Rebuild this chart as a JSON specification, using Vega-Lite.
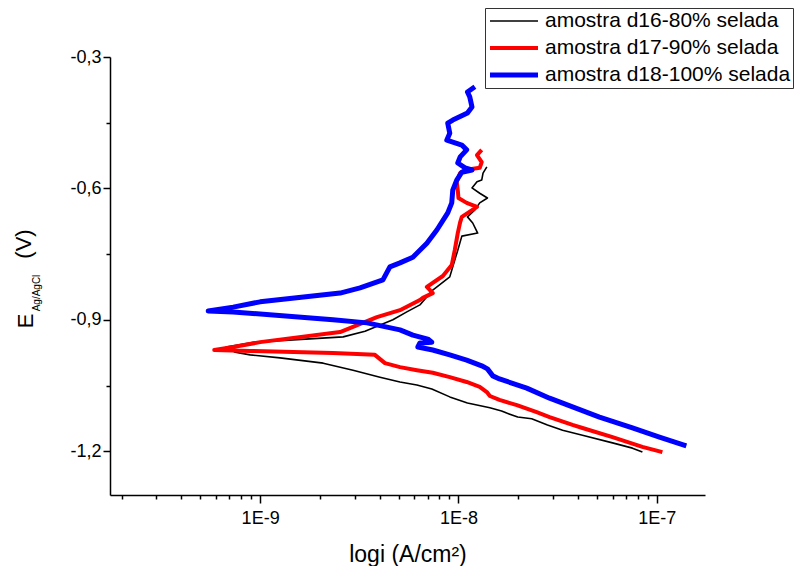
{
  "$schema": "https://vega.github.io/schema/vega-lite/v6.json",
  "width": 595,
  "height": 438,
  "autosize": "none",
  "padding": {"left": 110, "top": 57, "right": 92, "bottom": 71},
  "config": {
    "view": {"stroke": null},
    "font": "Liberation Sans",
    "axis": {"grid": false, "domainColor": "black", "domainWidth": 1.5, "tickColor": "black", "tickWidth": 1.5, "labelColor": "black", "titleColor": "black", "labelFont": "Liberation Sans", "titleFont": "Liberation Sans", "titleFontWeight": "normal"}
  },
  "data": {"values": [
    {"s": "amostra d16-80% selada", "k": 1, "i": 8.46e-8, "E": -1.202},
    {"s": "amostra d16-80% selada", "k": 2, "i": 7.54e-8, "E": -1.193},
    {"s": "amostra d16-80% selada", "k": 3, "i": 5.98e-8, "E": -1.181},
    {"s": "amostra d16-80% selada", "k": 4, "i": 4.17e-8, "E": -1.163},
    {"s": "amostra d16-80% selada", "k": 5, "i": 3.35e-8, "E": -1.152},
    {"s": "amostra d16-80% selada", "k": 6, "i": 2.81e-8, "E": -1.140},
    {"s": "amostra d16-80% selada", "k": 7, "i": 2.34e-8, "E": -1.126},
    {"s": "amostra d16-80% selada", "k": 8, "i": 1.99e-8, "E": -1.122},
    {"s": "amostra d16-80% selada", "k": 9, "i": 1.75e-8, "E": -1.113},
    {"s": "amostra d16-80% selada", "k": 10, "i": 1.65e-8, "E": -1.108},
    {"s": "amostra d16-80% selada", "k": 11, "i": 1.44e-8, "E": -1.101},
    {"s": "amostra d16-80% selada", "k": 12, "i": 1.11e-8, "E": -1.090},
    {"s": "amostra d16-80% selada", "k": 13, "i": 9.04e-9, "E": -1.076},
    {"s": "amostra d16-80% selada", "k": 14, "i": 7.34e-9, "E": -1.058},
    {"s": "amostra d16-80% selada", "k": 15, "i": 6.17e-9, "E": -1.049},
    {"s": "amostra d16-80% selada", "k": 16, "i": 5.07e-9, "E": -1.042},
    {"s": "amostra d16-80% selada", "k": 17, "i": 4.02e-9, "E": -1.031},
    {"s": "amostra d16-80% selada", "k": 18, "i": 2.94e-9, "E": -1.015},
    {"s": "amostra d16-80% selada", "k": 19, "i": 2.08e-9, "E": -0.999},
    {"s": "amostra d16-80% selada", "k": 20, "i": 1.26e-9, "E": -0.987},
    {"s": "amostra d16-80% selada", "k": 21, "i": 8.91e-10, "E": -0.980},
    {"s": "amostra d16-80% selada", "k": 22, "i": 7.49e-10, "E": -0.974},
    {"s": "amostra d16-80% selada", "k": 23, "i": 6.74e-10, "E": -0.962},
    {"s": "amostra d16-80% selada", "k": 24, "i": 9.44e-10, "E": -0.951},
    {"s": "amostra d16-80% selada", "k": 25, "i": 2.62e-9, "E": -0.939},
    {"s": "amostra d16-80% selada", "k": 26, "i": 3.38e-9, "E": -0.926},
    {"s": "amostra d16-80% selada", "k": 27, "i": 4.67e-9, "E": -0.900},
    {"s": "amostra d16-80% selada", "k": 28, "i": 5.49e-9, "E": -0.882},
    {"s": "amostra d16-80% selada", "k": 29, "i": 6.39e-9, "E": -0.866},
    {"s": "amostra d16-80% selada", "k": 30, "i": 7.42e-9, "E": -0.832},
    {"s": "amostra d16-80% selada", "k": 31, "i": 9.04e-9, "E": -0.802},
    {"s": "amostra d16-80% selada", "k": 32, "i": 9.36e-9, "E": -0.779},
    {"s": "amostra d16-80% selada", "k": 33, "i": 9.92e-9, "E": -0.741},
    {"s": "amostra d16-80% selada", "k": 34, "i": 1.04e-8, "E": -0.709},
    {"s": "amostra d16-80% selada", "k": 35, "i": 1.25e-8, "E": -0.702},
    {"s": "amostra d16-80% selada", "k": 36, "i": 1.18e-8, "E": -0.679},
    {"s": "amostra d16-80% selada", "k": 37, "i": 1.11e-8, "E": -0.665},
    {"s": "amostra d16-80% selada", "k": 38, "i": 1.21e-8, "E": -0.649},
    {"s": "amostra d16-80% selada", "k": 39, "i": 1.28e-8, "E": -0.633},
    {"s": "amostra d16-80% selada", "k": 40, "i": 1.40e-8, "E": -0.622},
    {"s": "amostra d16-80% selada", "k": 41, "i": 1.28e-8, "E": -0.611},
    {"s": "amostra d16-80% selada", "k": 42, "i": 1.17e-8, "E": -0.599},
    {"s": "amostra d16-80% selada", "k": 43, "i": 1.24e-8, "E": -0.585},
    {"s": "amostra d16-80% selada", "k": 44, "i": 1.31e-8, "E": -0.581},
    {"s": "amostra d16-80% selada", "k": 45, "i": 1.33e-8, "E": -0.565},
    {"s": "amostra d16-80% selada", "k": 46, "i": 1.39e-8, "E": -0.551},

    {"s": "amostra d17-90% selada", "k": 1, "i": 1.067e-7, "E": -1.202},
    {"s": "amostra d17-90% selada", "k": 2, "i": 8.46e-8, "E": -1.190},
    {"s": "amostra d17-90% selada", "k": 3, "i": 5.98e-8, "E": -1.168},
    {"s": "amostra d17-90% selada", "k": 4, "i": 4.22e-8, "E": -1.147},
    {"s": "amostra d17-90% selada", "k": 5, "i": 3.76e-8, "E": -1.140},
    {"s": "amostra d17-90% selada", "k": 6, "i": 2.88e-8, "E": -1.122},
    {"s": "amostra d17-90% selada", "k": 7, "i": 2.48e-8, "E": -1.111},
    {"s": "amostra d17-90% selada", "k": 8, "i": 1.97e-8, "E": -1.095},
    {"s": "amostra d17-90% selada", "k": 9, "i": 1.61e-8, "E": -1.083},
    {"s": "amostra d17-90% selada", "k": 10, "i": 1.44e-8, "E": -1.074},
    {"s": "amostra d17-90% selada", "k": 11, "i": 1.39e-8, "E": -1.065},
    {"s": "amostra d17-90% selada", "k": 12, "i": 1.28e-8, "E": -1.053},
    {"s": "amostra d17-90% selada", "k": 13, "i": 1.10e-8, "E": -1.042},
    {"s": "amostra d17-90% selada", "k": 14, "i": 9.04e-9, "E": -1.031},
    {"s": "amostra d17-90% selada", "k": 15, "i": 7.42e-9, "E": -1.021},
    {"s": "amostra d17-90% selada", "k": 16, "i": 6.17e-9, "E": -1.015},
    {"s": "amostra d17-90% selada", "k": 17, "i": 5.07e-9, "E": -1.008},
    {"s": "amostra d17-90% selada", "k": 18, "i": 4.26e-9, "E": -0.999},
    {"s": "amostra d17-90% selada", "k": 19, "i": 3.79e-9, "E": -0.980},
    {"s": "amostra d17-90% selada", "k": 20, "i": 2.33e-9, "E": -0.976},
    {"s": "amostra d17-90% selada", "k": 21, "i": 8.91e-10, "E": -0.971},
    {"s": "amostra d17-90% selada", "k": 22, "i": 5.87e-10, "E": -0.969},
    {"s": "amostra d17-90% selada", "k": 23, "i": 7.31e-10, "E": -0.962},
    {"s": "amostra d17-90% selada", "k": 24, "i": 1.00e-9, "E": -0.951},
    {"s": "amostra d17-90% selada", "k": 25, "i": 2.53e-9, "E": -0.928},
    {"s": "amostra d17-90% selada", "k": 26, "i": 3.88e-9, "E": -0.894},
    {"s": "amostra d17-90% selada", "k": 27, "i": 5.07e-9, "E": -0.878},
    {"s": "amostra d17-90% selada", "k": 28, "i": 6.39e-9, "E": -0.855},
    {"s": "amostra d17-90% selada", "k": 29, "i": 6.61e-9, "E": -0.850},
    {"s": "amostra d17-90% selada", "k": 30, "i": 7.42e-9, "E": -0.839},
    {"s": "amostra d17-90% selada", "k": 31, "i": 6.93e-9, "E": -0.825},
    {"s": "amostra d17-90% selada", "k": 32, "i": 8.34e-9, "E": -0.800},
    {"s": "amostra d17-90% selada", "k": 33, "i": 9.25e-9, "E": -0.775},
    {"s": "amostra d17-90% selada", "k": 34, "i": 9.58e-9, "E": -0.741},
    {"s": "amostra d17-90% selada", "k": 35, "i": 9.92e-9, "E": -0.702},
    {"s": "amostra d17-90% selada", "k": 36, "i": 1.02e-8, "E": -0.677},
    {"s": "amostra d17-90% selada", "k": 37, "i": 1.04e-8, "E": -0.665},
    {"s": "amostra d17-90% selada", "k": 38, "i": 1.24e-8, "E": -0.642},
    {"s": "amostra d17-90% selada", "k": 39, "i": 1.10e-8, "E": -0.633},
    {"s": "amostra d17-90% selada", "k": 40, "i": 1.00e-8, "E": -0.622},
    {"s": "amostra d17-90% selada", "k": 41, "i": 9.92e-9, "E": -0.604},
    {"s": "amostra d17-90% selada", "k": 42, "i": 9.80e-9, "E": -0.585},
    {"s": "amostra d17-90% selada", "k": 43, "i": 1.02e-8, "E": -0.565},
    {"s": "amostra d17-90% selada", "k": 44, "i": 1.08e-8, "E": -0.558},
    {"s": "amostra d17-90% selada", "k": 45, "i": 1.28e-8, "E": -0.553},
    {"s": "amostra d17-90% selada", "k": 46, "i": 1.31e-8, "E": -0.540},
    {"s": "amostra d17-90% selada", "k": 47, "i": 1.24e-8, "E": -0.524},
    {"s": "amostra d17-90% selada", "k": 48, "i": 1.31e-8, "E": -0.512},

    {"s": "amostra d18-100% selada", "k": 1, "i": 1.409e-7, "E": -1.188},
    {"s": "amostra d18-100% selada", "k": 2, "i": 1.031e-7, "E": -1.168},
    {"s": "amostra d18-100% selada", "k": 3, "i": 7.54e-8, "E": -1.147},
    {"s": "amostra d18-100% selada", "k": 4, "i": 5.14e-8, "E": -1.122},
    {"s": "amostra d18-100% selada", "k": 5, "i": 3.76e-8, "E": -1.099},
    {"s": "amostra d18-100% selada", "k": 6, "i": 2.88e-8, "E": -1.079},
    {"s": "amostra d18-100% selada", "k": 7, "i": 2.21e-8, "E": -1.056},
    {"s": "amostra d18-100% selada", "k": 8, "i": 1.61e-8, "E": -1.035},
    {"s": "amostra d18-100% selada", "k": 9, "i": 1.49e-8, "E": -1.028},
    {"s": "amostra d18-100% selada", "k": 10, "i": 1.40e-8, "E": -1.012},
    {"s": "amostra d18-100% selada", "k": 11, "i": 1.31e-8, "E": -1.005},
    {"s": "amostra d18-100% selada", "k": 12, "i": 1.10e-8, "E": -0.992},
    {"s": "amostra d18-100% selada", "k": 13, "i": 9.04e-9, "E": -0.980},
    {"s": "amostra d18-100% selada", "k": 14, "i": 7.42e-9, "E": -0.969},
    {"s": "amostra d18-100% selada", "k": 15, "i": 6.24e-9, "E": -0.962},
    {"s": "amostra d18-100% selada", "k": 16, "i": 6.39e-9, "E": -0.953},
    {"s": "amostra d18-100% selada", "k": 17, "i": 7.34e-9, "E": -0.951},
    {"s": "amostra d18-100% selada", "k": 18, "i": 7.01e-9, "E": -0.944},
    {"s": "amostra d18-100% selada", "k": 19, "i": 5.89e-9, "E": -0.935},
    {"s": "amostra d18-100% selada", "k": 20, "i": 5.07e-9, "E": -0.923},
    {"s": "amostra d18-100% selada", "k": 21, "i": 3.46e-9, "E": -0.907},
    {"s": "amostra d18-100% selada", "k": 22, "i": 2.33e-9, "E": -0.900},
    {"s": "amostra d18-100% selada", "k": 23, "i": 7.31e-10, "E": -0.882},
    {"s": "amostra d18-100% selada", "k": 24, "i": 5.47e-10, "E": -0.880},
    {"s": "amostra d18-100% selada", "k": 25, "i": 7.31e-10, "E": -0.871},
    {"s": "amostra d18-100% selada", "k": 26, "i": 1.00e-9, "E": -0.859},
    {"s": "amostra d18-100% selada", "k": 27, "i": 2.53e-9, "E": -0.839},
    {"s": "amostra d18-100% selada", "k": 28, "i": 3.19e-9, "E": -0.827},
    {"s": "amostra d18-100% selada", "k": 29, "i": 4.16e-9, "E": -0.809},
    {"s": "amostra d18-100% selada", "k": 30, "i": 4.51e-9, "E": -0.779},
    {"s": "amostra d18-100% selada", "k": 31, "i": 5.07e-9, "E": -0.770},
    {"s": "amostra d18-100% selada", "k": 32, "i": 5.89e-9, "E": -0.757},
    {"s": "amostra d18-100% selada", "k": 33, "i": 6.93e-9, "E": -0.725},
    {"s": "amostra d18-100% selada", "k": 34, "i": 7.78e-9, "E": -0.695},
    {"s": "amostra d18-100% selada", "k": 35, "i": 8.83e-9, "E": -0.656},
    {"s": "amostra d18-100% selada", "k": 36, "i": 9.25e-9, "E": -0.633},
    {"s": "amostra d18-100% selada", "k": 37, "i": 9.36e-9, "E": -0.604},
    {"s": "amostra d18-100% selada", "k": 38, "i": 9.80e-9, "E": -0.581},
    {"s": "amostra d18-100% selada", "k": 39, "i": 1.04e-8, "E": -0.563},
    {"s": "amostra d18-100% selada", "k": 40, "i": 1.17e-8, "E": -0.558},
    {"s": "amostra d18-100% selada", "k": 41, "i": 1.08e-8, "E": -0.553},
    {"s": "amostra d18-100% selada", "k": 42, "i": 9.92e-9, "E": -0.542},
    {"s": "amostra d18-100% selada", "k": 43, "i": 1.02e-8, "E": -0.528},
    {"s": "amostra d18-100% selada", "k": 44, "i": 1.10e-8, "E": -0.512},
    {"s": "amostra d18-100% selada", "k": 45, "i": 1.04e-8, "E": -0.501},
    {"s": "amostra d18-100% selada", "k": 46, "i": 8.73e-9, "E": -0.490},
    {"s": "amostra d18-100% selada", "k": 47, "i": 9.04e-9, "E": -0.474},
    {"s": "amostra d18-100% selada", "k": 48, "i": 8.83e-9, "E": -0.451},
    {"s": "amostra d18-100% selada", "k": 49, "i": 9.36e-9, "E": -0.444},
    {"s": "amostra d18-100% selada", "k": 50, "i": 1.11e-8, "E": -0.428},
    {"s": "amostra d18-100% selada", "k": 51, "i": 1.17e-8, "E": -0.414},
    {"s": "amostra d18-100% selada", "k": 52, "i": 1.14e-8, "E": -0.391},
    {"s": "amostra d18-100% selada", "k": 53, "i": 1.11e-8, "E": -0.380},
    {"s": "amostra d18-100% selada", "k": 54, "i": 1.21e-8, "E": -0.368}
  ]},
  "encoding": {
    "x": {
      "field": "i", "type": "quantitative",
      "scale": {"type": "log", "domain": [1.75e-10, 1.75e-7]},
      "axis": {
        "values": [2e-10, 3e-10, 4e-10, 5e-10, 6e-10, 7e-10, 8e-10, 9e-10, 1e-9, 2e-9, 3e-9, 4e-9, 5e-9, 6e-9, 7e-9, 8e-9, 9e-9, 1e-8, 2e-8, 3e-8, 4e-8, 5e-8, 6e-8, 7e-8, 8e-8, 9e-8, 1e-7],
        "labelExpr": "abs(log(datum.value)/LN10 - round(log(datum.value)/LN10)) < 0.001 ? '1E' + round(log(datum.value)/LN10) : ''",
        "tickSize": {"condition": {"test": "abs(log(datum.value)/LN10 - round(log(datum.value)/LN10)) < 0.001", "value": 8}, "value": 4},
        "labelFontSize": 18,
        "labelPadding": 6,
        "labelOverlap": false,
        "labelFlush": false,
        "labelBound": false,
        "title": "logi (A/cm²)",
        "titleFontSize": 23,
        "titleBaseline": "top",
        "titleY": 48
      }
    },
    "y": {"field": "E", "type": "quantitative", "scale": {"domain": [-1.3, -0.3], "nice": false, "zero": false}},
    "order": {"field": "k", "type": "quantitative"},
    "color": {
      "field": "s", "type": "nominal",
      "scale": {"domain": ["amostra d16-80% selada", "amostra d17-90% selada", "amostra d18-100% selada"], "range": ["#000000", "#ff0000", "#0000ff"]},
      "legend": {"orient": "none", "legendX": 375, "legendY": -49, "title": null, "labelFont": "Liberation Sans", "labelFontSize": 21, "labelColor": "black", "labelOffset": 4.5, "labelLimit": 400, "symbolType": "stroke", "symbolSize": 2304, "clipHeight": 21, "rowPadding": 5, "padding": 2.5, "strokeColor": "#333333", "fillColor": "white"}
    },
    "strokeWidth": {
      "field": "s", "type": "nominal",
      "scale": {"type": "ordinal", "domain": ["amostra d16-80% selada", "amostra d17-90% selada", "amostra d18-100% selada"], "range": [1.6, 4, 5]},
      "legend": {"orient": "none", "legendX": 375, "legendY": -49, "title": null, "labelFont": "Liberation Sans", "labelFontSize": 21, "labelColor": "black", "labelOffset": 4.5, "labelLimit": 400, "symbolType": "stroke", "symbolSize": 2304, "clipHeight": 21, "rowPadding": 5, "padding": 2.5, "strokeColor": "#333333", "fillColor": "white"}
    }
  },
  "layer": [
    {
      "transform": [{"filter": "datum.s === 'amostra d16-80% selada'"}],
      "mark": {"type": "line", "strokeJoin": "round"},
      "encoding": {
        "y": {"field": "E", "type": "quantitative", "scale": {"domain": [-1.3, -0.3], "nice": false, "zero": false},
          "axis": {
            "orient": "left",
            "values": [-0.3, -0.45, -0.6, -0.75, -0.9, -1.05, -1.2],
            "labelExpr": "abs(datum.value*10/3 - round(datum.value*10/3)) < 0.01 ? replace(replace(format(datum.value, '.1f'), '.', ','), '\u2212', '-') : ''",
            "tickSize": {"condition": {"test": "abs(datum.value*10/3 - round(datum.value*10/3)) < 0.01", "value": 7}, "value": 4},
            "labelFontSize": 18,
            "labelPadding": 2,
            "labelOverlap": false,
            "labelFlush": false,
            "labelBound": false,
            "title": "E",
            "titleFontSize": 22,
            "titleAngle": -90,
            "titleAlign": "center",
            "titleBaseline": "middle",
            "titleX": -85,
            "titleY": 263.5
          }
        }
      }
    },
    {
      "transform": [{"filter": "datum.s === 'amostra d17-90% selada'"}],
      "mark": {"type": "line", "strokeJoin": "round"},
      "encoding": {
        "y": {"field": "E", "type": "quantitative", "scale": {"domain": [-1.3, -0.3], "nice": false, "zero": false},
          "axis": {"orient": "left", "domain": false, "ticks": false, "labels": false, "grid": false,
            "title": "Ag/AgCl", "titleFontSize": 10, "titleAngle": -90, "titleAlign": "center", "titleBaseline": "middle", "titleX": -73.5, "titleY": 235.5}
        }
      }
    },
    {
      "transform": [{"filter": "datum.s === 'amostra d18-100% selada'"}],
      "mark": {"type": "line", "strokeJoin": "round"},
      "encoding": {
        "y": {"field": "E", "type": "quantitative", "scale": {"domain": [-1.3, -0.3], "nice": false, "zero": false},
          "axis": {"orient": "left", "domain": false, "ticks": false, "labels": false, "grid": false,
            "title": "(V)", "titleFontSize": 22, "titleAngle": -90, "titleAlign": "center", "titleBaseline": "middle", "titleX": -87, "titleY": 186.5}
        }
      }
    }
  ],
  "resolve": {"axis": {"y": "independent"}}
}
